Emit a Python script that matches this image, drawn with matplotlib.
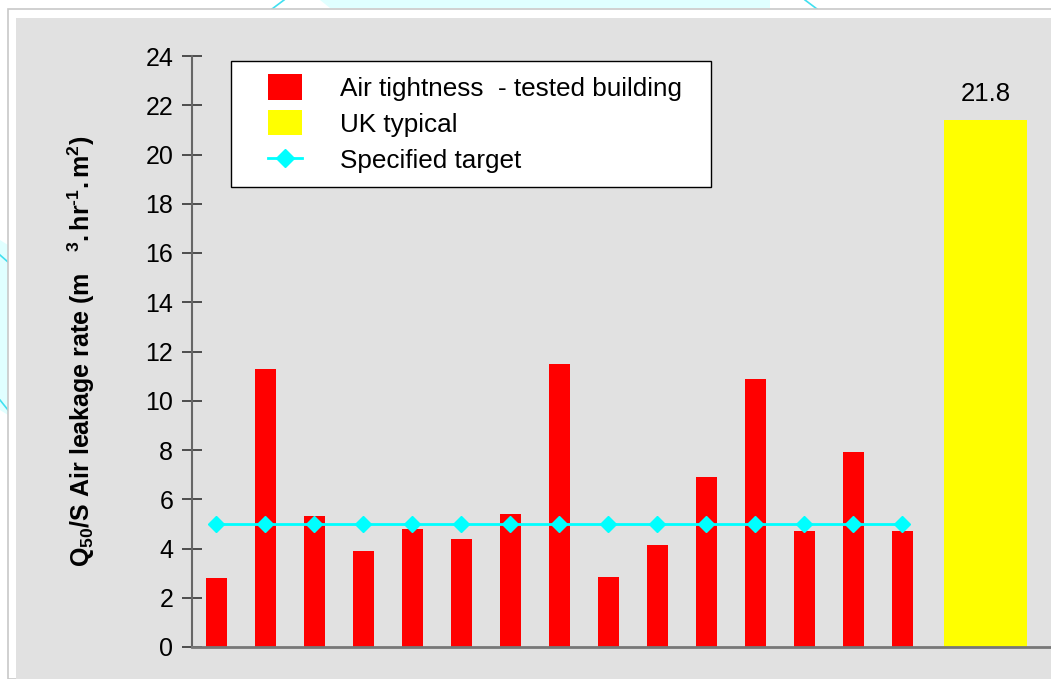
import matplotlib
matplotlib.use('Agg')
import numpy as np
import matplotlib.pyplot as plt
from matplotlib.patches import Rectangle, Polygon
from matplotlib.lines import Line2D
from matplotlib.legend_handler import HandlerPatch, HandlerLine2D

plt.rcParams['font.family'] = ['Liberation Sans', 'DejaVu Sans']
plt.rcParams['mathtext.fontset'] = 'custom'
plt.rcParams['mathtext.rm'] = 'Liberation Sans'
plt.rcParams['mathtext.bf'] = 'Liberation Sans:bold'
plt.rcParams['mathtext.it'] = 'Liberation Sans:italic'

# data
tested = [2.8, 11.3, 5.3, 3.9, 4.8, 4.4, 5.4, 11.5, 2.85, 4.15, 6.9, 10.9, 4.7, 7.9, 4.7]
uk_typical = 21.4
uk_label = '21.8'
target = [5.0] * 15
yticks = list(range(0, 25, 2))

W, H = 1051, 679
fig = plt.figure(figsize=(W / 100, H / 100), dpi=100)
fig.patch.set_facecolor('white')

# slide-like background decoration
fig.patches.append(Polygon([[320 / W, 1], [770 / W, 1], [770 / W, 1 - 8 / H], [330 / W, 1 - 8 / H]],
                           closed=True, transform=fig.transFigure, facecolor='#e0ffff', edgecolor='none', zorder=-3))
fig.patches.append(Polygon([[0, 1 - 240 / H], [16 / W, 1 - 250 / H], [16 / W, 1 - 420 / H], [0, 1 - 410 / H]],
                           closed=True, transform=fig.transFigure, facecolor='#e0ffff', edgecolor='none', zorder=-3))
fig.lines.append(Line2D([272 / W, 284 / W], [1 - 9 / H, 1], transform=fig.transFigure, color='#40e0f0', lw=1.2, zorder=-2))
fig.lines.append(Line2D([805 / W, 817 / W], [1, 1 - 9 / H], transform=fig.transFigure, color='#40e0f0', lw=1.2, zorder=-2))
fig.lines.append(Line2D([0, 8 / W], [1 - 255 / H, 1 - 262 / H], transform=fig.transFigure, color='#40e0f0', lw=1.2, zorder=-2))
fig.lines.append(Line2D([0, 8 / W], [1 - 400 / H, 1 - 410 / H], transform=fig.transFigure, color='#40e0f0', lw=1.2, zorder=-2))
fig.patches.append(Rectangle((8 / W, 0), 1, 1 - 9 / H, transform=fig.transFigure,
                             facecolor='white', edgecolor='#c8c8c8', lw=1.2, zorder=-1))
fig.patches.append(Rectangle((16 / W, 0), 1, 1 - 18 / H, transform=fig.transFigure,
                             facecolor='#e1e1e1', edgecolor='none', zorder=-0.5))

ax = fig.add_axes([192 / W, 1 - 647 / H, 1 - 192 / W, (647 - 56) / H])
ax.set_zorder(1)
ax.patch.set_visible(False)

x = list(range(len(tested)))
b1 = ax.bar(x, tested, width=0.43, color='#ff0000', zorder=2, label='Air tightness  - tested building')
b2 = ax.bar([15.7], [uk_typical], width=1.7, color='#ffff00', zorder=2, label='UK typical')
ln, = ax.plot(x, target, color='#00ffff', lw=2, marker='D', ms=8, zorder=3, label='Specified target')
ax.text(15.7, uk_typical + 0.55, uk_label, ha='center', va='bottom', fontsize=18.5)

ax.set_xlim(-0.5, 17.04)
ax.set_ylim(0, 24)
ax.set_yticks(yticks)
ax.set_xticks([])
ax.tick_params(axis='y', direction='inout', length=15, width=1.2, color='#333333',
               labelsize=18, pad=6)
for s in ['top', 'right']:
    ax.spines[s].set_visible(False)
ax.spines['left'].set_color('#666666')
ax.spines['left'].set_linewidth(1.5)
ax.spines['bottom'].set_color('#777777')
ax.spines['bottom'].set_linewidth(2)

ylab = (r'$\mathbf{Q_{50}/S\ Air\ leakage\ rate\ (m\ \ \ ^{3}{.}hr^{' + '\u2010'
        + r'1}{.}m^{2})}$')
ax.set_ylabel(ylab, fontsize=18)
ax.yaxis.set_label_coords((97 - 192) / 859, 0.5)

# legend keys sit indented inside the box, like the original
OFF, KW = 16.0, 24.5


class PatchKey(HandlerPatch):
    def create_artists(self, legend, orig_handle, xdescent, ydescent, width, height, fontsize, trans):
        p = Rectangle((-xdescent + OFF, -ydescent - 1), KW, height + 2,
                      facecolor=orig_handle.get_facecolor(), edgecolor='none', transform=trans)
        return [p]


class LineKey(HandlerLine2D):
    def get_xdata(self, legend, xdescent, ydescent, width, height, fontsize):
        x0 = -xdescent + OFF
        return np.array([x0, x0 + KW]), np.array([x0 + KW / 2])


leg = ax.legend([b1.patches[0], b2.patches[0], ln],
                ['Air tightness  - tested building  ', 'UK typical', 'Specified target'],
                handler_map={Rectangle: PatchKey(), Line2D: LineKey(numpoints=1)},
                loc='upper left', bbox_to_anchor=(231 / W, 1 - 61 / H), bbox_transform=fig.transFigure,
                fontsize=18.8, frameon=True, fancybox=False, framealpha=1, edgecolor='black',
                handlelength=2.15, handleheight=0.95, handletextpad=1.45, borderpad=0.56,
                labelspacing=0.41, borderaxespad=0, markerscale=1.15)
leg.get_frame().set_linewidth(1.0)

fig.savefig('out.png', dpi=100)
